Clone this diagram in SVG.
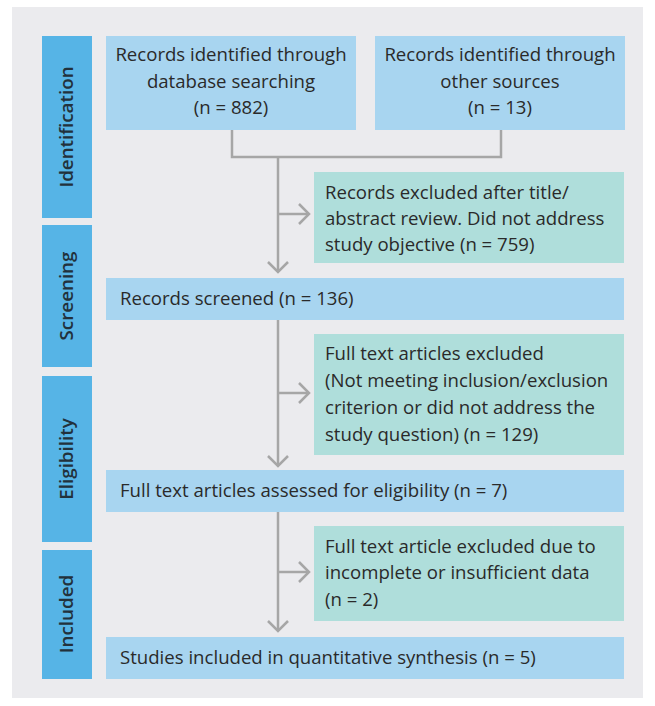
<svg xmlns="http://www.w3.org/2000/svg" width="655" height="706" viewBox="0 0 655 706">
<defs>
<style>
.bg{fill:#EBEBEE}
.side{fill:#56B4E6}
.blue{fill:#A8D5F0}
.teal{fill:#AFDEDB}
.t{font-family:"Open Sans","Liberation Sans",sans-serif;font-size:18.6px;fill:#2a2a2a}
.c{text-anchor:middle}
.lab{font-family:"Open Sans","Liberation Sans",sans-serif;font-size:18.8px;font-weight:600;fill:#22313c;text-anchor:middle}
.ln{fill:none;stroke:#A6A6A6;stroke-width:2.5}
</style>
<marker id="ah" markerWidth="14" markerHeight="22" refX="11" refY="11" orient="auto" markerUnits="userSpaceOnUse">
<path d="M1,1 L11,11 L1,21" fill="none" stroke="#A6A6A6" stroke-width="2.5"/>
</marker>
</defs>
<rect x="0" y="0" width="655" height="706" fill="#ffffff"/>
<rect class="bg" x="12" y="7" width="631" height="691"/>

<g id="phase-identification"><rect class="side" x="42" y="36" width="50" height="182"/><text class="lab" transform="translate(73,127) rotate(-90)">Identification</text></g>
<g id="phase-screening"><rect class="side" x="42" y="225" width="50" height="142"/><text class="lab" transform="translate(73,296) rotate(-90)">Screening</text></g>
<g id="phase-eligibility"><rect class="side" x="42" y="376" width="50" height="166"/><text class="lab" transform="translate(73,459) rotate(-90)">Eligibility</text></g>
<g id="phase-included"><rect class="side" x="42" y="550" width="50" height="129"/><text class="lab" transform="translate(73,614) rotate(-90)">Included</text></g>

<g id="connectors">
<path class="ln" d="M232,130 V157 H501 V130"/>
<path class="ln" d="M278,157 V272" marker-end="url(#ah)"/>
<path class="ln" d="M278,214 H309" marker-end="url(#ah)"/>
<path class="ln" d="M278,320 V466" marker-end="url(#ah)"/>
<path class="ln" d="M278,393 H309" marker-end="url(#ah)"/>
<path class="ln" d="M278,512 V631" marker-end="url(#ah)"/>
<path class="ln" d="M278,572 H309" marker-end="url(#ah)"/>
</g>

<g id="db"><rect class="blue" x="106" y="36" width="250" height="94"/>
<text class="t c" x="231" y="61">Records identified through</text>
<text class="t c" x="231" y="88">database searching</text>
<text class="t c" x="231" y="114">(n = 882)</text></g>

<g id="other"><rect class="blue" x="375" y="36" width="250" height="94"/>
<text class="t c" x="500" y="61">Records identified through</text>
<text class="t c" x="500" y="88">other sources</text>
<text class="t c" x="500" y="114">(n = 13)</text></g>

<g id="excl1"><rect class="teal" x="314" y="172" width="310" height="91"/>
<text class="t" x="325" y="199">Records excluded after title/</text>
<text class="t" x="325" y="225">abstract review. Did not address</text>
<text class="t" x="325" y="251">study objective (n = 759)</text></g>

<g id="screened"><rect class="blue" x="106" y="278" width="518" height="42"/>
<text class="t" x="120" y="305">Records screened (n = 136)</text></g>

<g id="excl2"><rect class="teal" x="314" y="334" width="310" height="121"/>
<text class="t" x="325" y="360">Full text articles excluded</text>
<text class="t" x="325" y="387">(Not meeting inclusion/exclusion</text>
<text class="t" x="325" y="414">criterion or did not address the</text>
<text class="t" x="325" y="441">study question) (n = 129)</text></g>

<g id="assessed"><rect class="blue" x="106" y="470" width="518" height="42"/>
<text class="t" x="120" y="497">Full text articles assessed for eligibility (n = 7)</text></g>

<g id="excl3"><rect class="teal" x="314" y="526" width="310" height="95"/>
<text class="t" x="325" y="553">Full text article excluded due to</text>
<text class="t" x="325" y="579">incomplete or insufficient data</text>
<text class="t" x="325" y="606">(n = 2)</text></g>

<g id="included"><rect class="blue" x="106" y="637" width="518" height="42"/>
<text class="t" x="120" y="664">Studies included in quantitative synthesis (n = 5)</text></g>
</svg>
